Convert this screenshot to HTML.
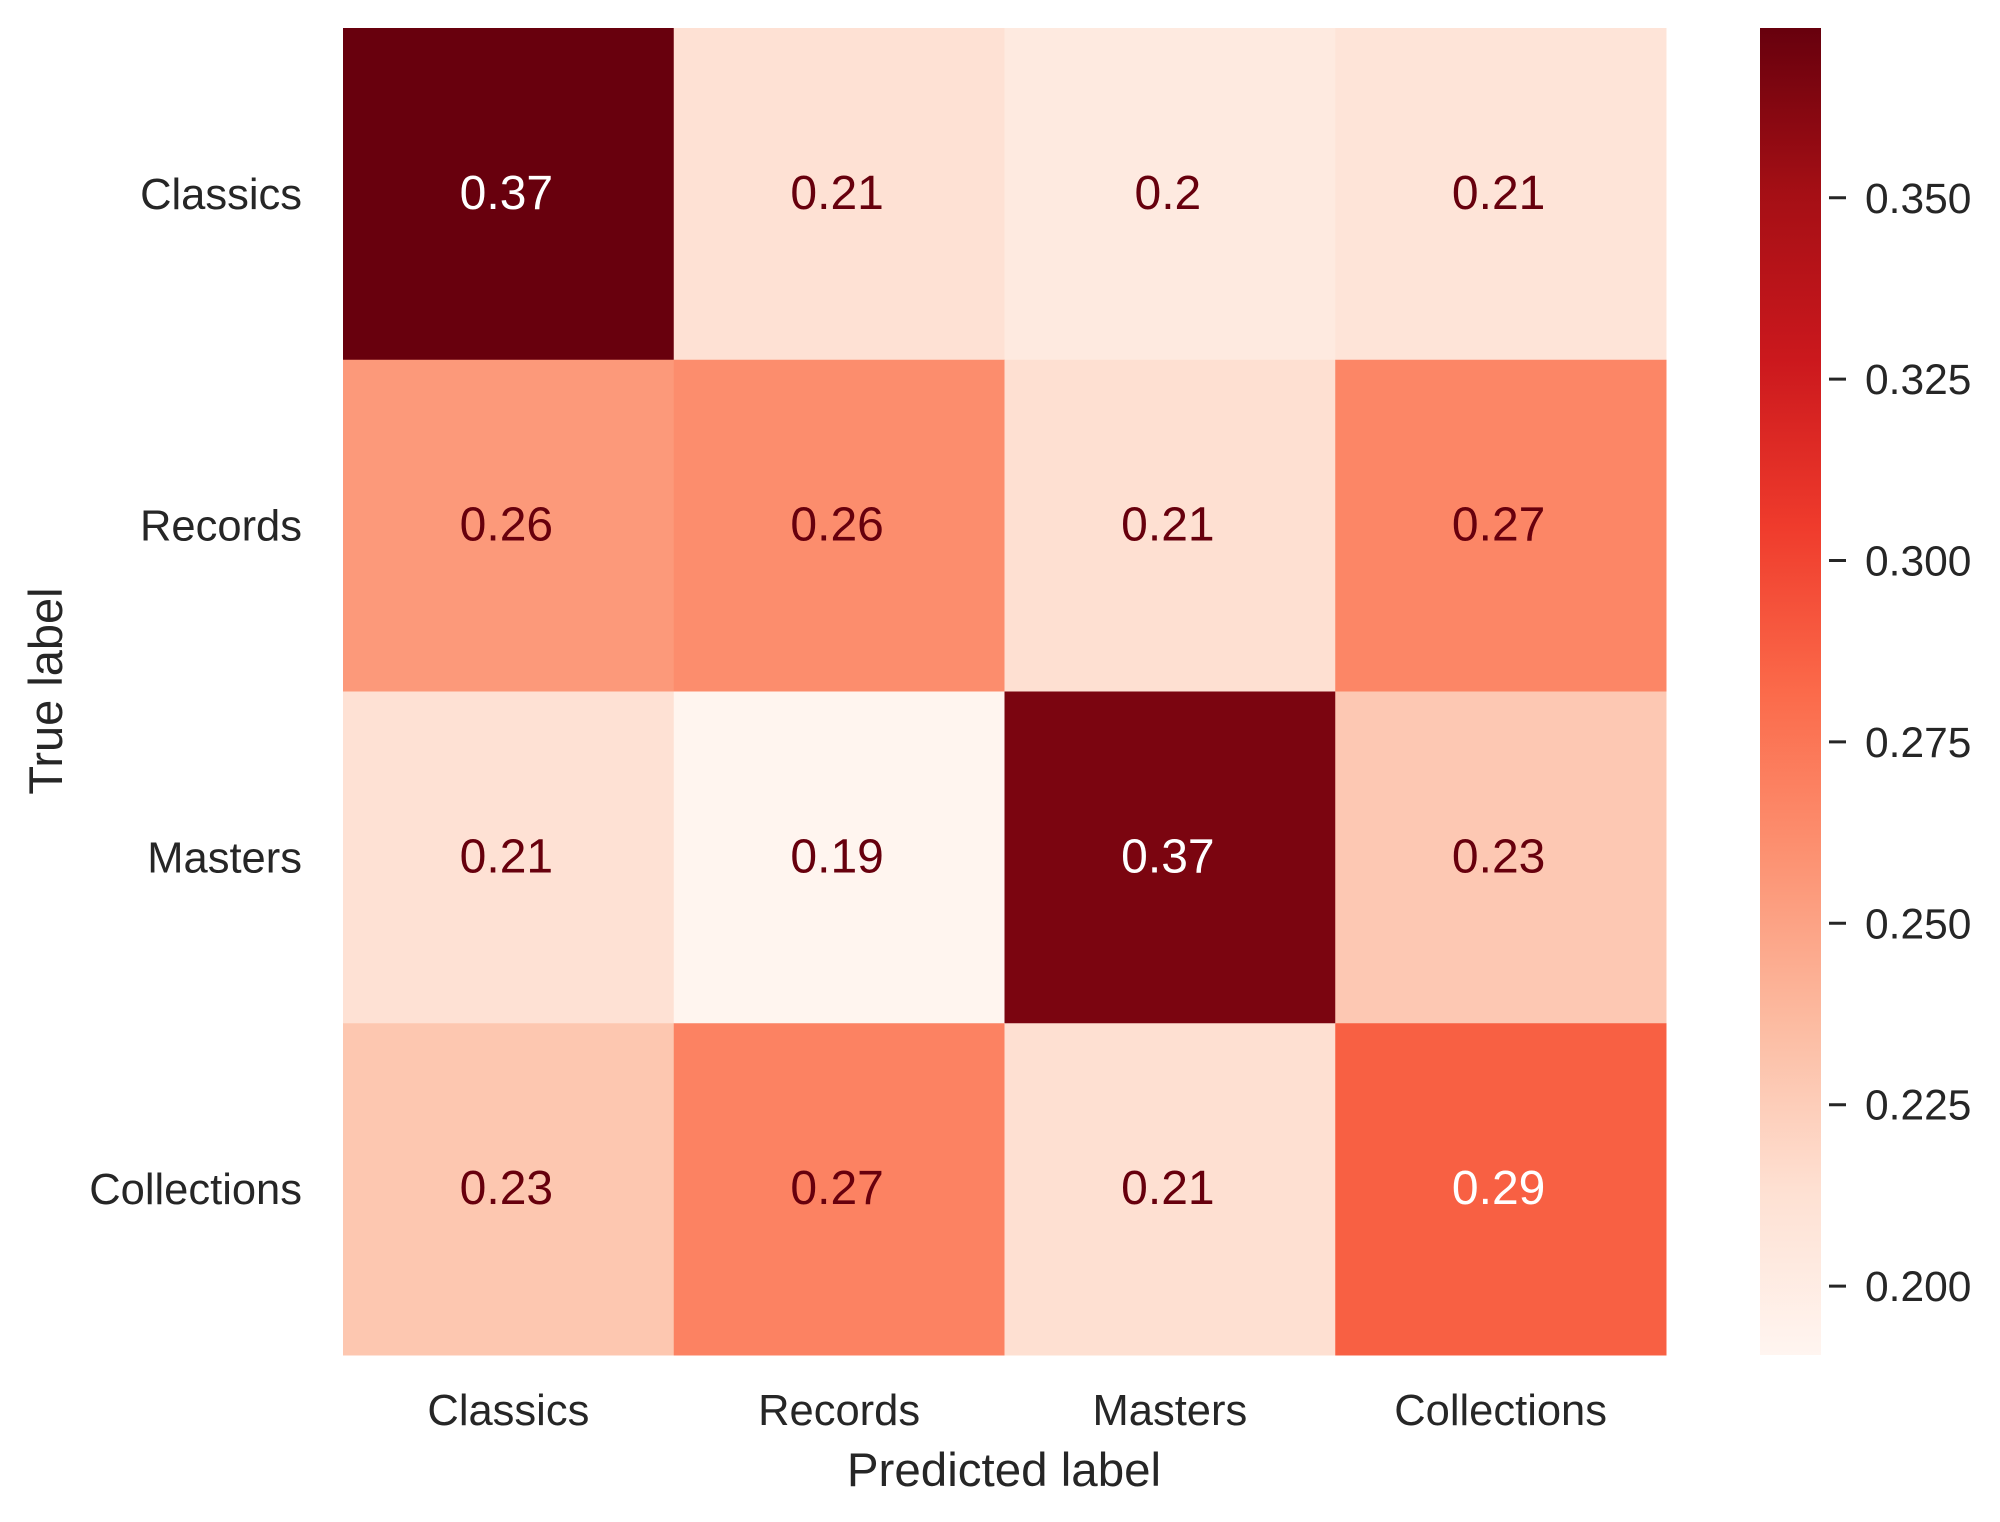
<!DOCTYPE html>
<html><head><meta charset="utf-8"><style>
html,body{margin:0;padding:0;background:#fff;}
svg{display:block;font-family:"Liberation Sans",sans-serif;}
</style></head><body>
<svg id="chart" width="2000" height="1522" viewBox="0 0 2000 1522" xmlns="http://www.w3.org/2000/svg">
<defs>
<linearGradient id="reds" x1="0" y1="1" x2="0" y2="0">
<stop offset="0" stop-color="#fff5f0"/><stop offset="0.125" stop-color="#fee0d2"/><stop offset="0.25" stop-color="#fcbba1"/><stop offset="0.375" stop-color="#fc9272"/><stop offset="0.5" stop-color="#fb6a4a"/><stop offset="0.625" stop-color="#ef3b2c"/><stop offset="0.75" stop-color="#cb181d"/><stop offset="0.875" stop-color="#a50f15"/><stop offset="1" stop-color="#67000d"/>
</linearGradient>
</defs>
<g id="cells"></g>
<g id="labels"></g>
<rect x="1760" y="28" width="61" height="1327" fill="url(#reds)"/>
<g id="cbticks"></g>
<text x="1004" y="1486" font-size="47.5" fill="#262626" text-anchor="middle">Predicted label</text>
<text x="0" y="0" font-size="47" fill="#262626" text-anchor="middle" transform="translate(62,691) rotate(-90)">True label</text>
</svg>
<script>
const categories = ["Classics", "Records", "Masters", "Collections"];
const row0 = [0.373, 0.212, 0.203, 0.209];
const row1 = [0.255, 0.262, 0.213, 0.266];
const row2 = [0.212, 0.191, 0.366, 0.228];
const row3 = [0.229, 0.268, 0.213, 0.287];
const labels0 = ["0.37", "0.21", "0.2", "0.21"];
const labels1 = ["0.26", "0.26", "0.21", "0.27"];
const labels2 = ["0.21", "0.19", "0.37", "0.23"];
const labels3 = ["0.23", "0.27", "0.21", "0.29"];
const cbTicks = [0.200, 0.225, 0.250, 0.275, 0.300, 0.325, 0.350];
const cbTickLabels = ["0.200", "0.225", "0.250", "0.275", "0.300", "0.325", "0.350"];
const vmin = 0.1905, vmax = 0.3734;

const rows = [row0, row1, row2, row3];
const rowLabels = [labels0, labels1, labels2, labels3];
const NS = "http://www.w3.org/2000/svg";
const X0 = 343, X1 = 1666, Y0 = 28, Y1 = 1355;
const n = categories.length;
const cw = (X1 - X0) / n, ch = (Y1 - Y0) / n;
const stops = ["#fff5f0","#fee0d2","#fcbba1","#fc9272","#fb6a4a","#ef3b2c","#cb181d","#a50f15","#67000d"];
function hex(h){return [1,3,5].map(i=>parseInt(h.substr(i,2),16));}
function cmap(v){
  let t = Math.max(0, Math.min(1, (v - vmin) / (vmax - vmin))) * (stops.length - 1);
  let i = Math.min(stops.length - 2, Math.floor(t)); let f = t - i;
  let a = hex(stops[i]), b = hex(stops[i+1]);
  return "rgb(" + a.map((c,k)=>Math.round(c + (b[k]-c)*f)).join(",") + ")";
}
function xPos(j){return X0 + cw * j;}
function yPos(i){return Y0 + ch * i;}
function cbY(v){return Y1 - (v - vmin) / (vmax - vmin) * (Y1 - Y0);}
function mk(tag, attrs, parent){const e=document.createElementNS(NS,tag);for(const k in attrs)e.setAttribute(k,attrs[k]);parent.appendChild(e);return e;}
const cells = document.getElementById("cells");
const lab = document.getElementById("labels");
const mid = (vmin + vmax) / 2;
rows.forEach((row, i) => {
  row.forEach((v, j) => {
    const r = mk("rect", {x: xPos(j), y: yPos(i), width: cw + 0.5, height: ch + 0.5, fill: cmap(v)}, cells);
    
    
    const t = mk("text", {x: xPos(j) + cw / 2 - 2, y: yPos(i) + ch / 2 + 15, "font-size": 48, "text-anchor": "middle", fill: v > mid ? "#ffffff" : "#67000d"}, cells);
    t.textContent = rowLabels[i][j];
    
    
  });
});
categories.forEach((c, k) => {
  const tx = mk("text", {x: xPos(k) + cw / 2, y: 1425, "font-size": 43.5, "text-anchor": "middle", fill: "#262626"}, lab);
  tx.textContent = c;
  
  
  const ty = mk("text", {x: 302, y: yPos(k) + ch / 2 + 15, "font-size": 43.5, "text-anchor": "end", fill: "#262626"}, lab);
  ty.textContent = c;
  
  
});
const cb = document.getElementById("cbticks");
cbTicks.forEach((v, k) => {
  const y = cbY(v);
  const l = mk("line", {x1: 1829, x2: 1846, y1: y, y2: y, stroke: "#262626", "stroke-width": 3}, cb);
  
  
  const t = mk("text", {x: 1865, y: y + 15, "font-size": 42.5, fill: "#262626"}, cb);
  t.textContent = cbTickLabels[k];
  
  
});
</script>
</body></html>
